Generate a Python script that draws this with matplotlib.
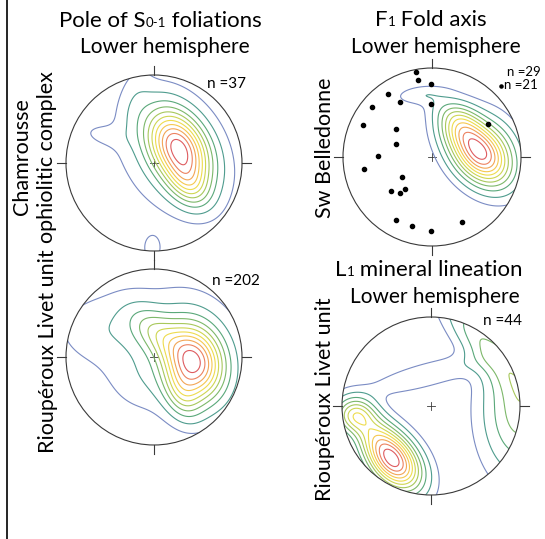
import numpy as np
import matplotlib
matplotlib.use("Agg")
import matplotlib.pyplot as plt
from matplotlib.patches import Circle
from matplotlib.offsetbox import TextArea, HPacker, AnnotationBbox

plt.rcParams["font.family"] = ["Lato", "DejaVu Sans"]

W, H = 545, 539

# stereonet placement (pixel centre x, centre y from top, radius)
NET_CX = [154, 154, 432, 431]
NET_CY = [163, 357, 157, 406]
NET_R = [88, 88, 89, 89]

# density peaks (unit-circle coords, x east, y north)
P1_X = [0.28, 0.40, 0.15, -0.22, -0.58, -0.02]
P1_Y = [0.17, -0.25, 0.05, 0.72, 0.32, -0.97]
P1_SMAJ = [0.32, 0.20, 0.55, 0.30, 0.20, 0.12]
P1_SMIN = [0.21, 0.14, 0.48, 0.12, 0.09, 0.08]
P1_ANG = [-60, -55, -60, 80, -10, 90]
P1_AMP = [1.0, 0.30, 0.075, 0.06, 0.05, 0.08]

P2_X = [0.45, 0.02, 0.32, 0.15, -0.60, -0.20]
P2_Y = [-0.06, 0.28, -0.45, 0.15, 0.32, -0.25]
P2_SMAJ = [0.30, 0.25, 0.20, 0.65, 0.35, 0.25]
P2_SMIN = [0.23, 0.15, 0.13, 0.55, 0.24, 0.20]
P2_ANG = [-75, -40, -70, 0, 0, -60]
P2_AMP = [1.0, 0.30, 0.22, 0.08, 0.08, 0.05]

P3_X = [0.54, 0.30, -0.12, 0.20, 0.85]
P3_Y = [0.05, 0.35, 0.70, 0.52, 0.25]
P3_SMAJ = [0.28, 0.18, 0.20, 0.20, 0.25]
P3_SMIN = [0.19, 0.14, 0.07, 0.10, 0.12]
P3_ANG = [-50, -45, 5, -20, -60]
P3_AMP = [1.0, 0.30, 0.10, 0.07, 0.06]

P4_X = [-0.42, -0.86, -0.65, 1.00, 0.60, -0.05]
P4_Y = [-0.62, -0.10, -0.30, -0.05, 0.70, 0.35]
P4_SMAJ = [0.26, 0.15, 0.25, 0.48, 0.45, 0.50]
P4_SMIN = [0.17, 0.13, 0.15, 0.28, 0.15, 0.10]
P4_ANG = [-50, 0, -50, 90, -50, 15]
P4_AMP = [1.0, 0.45, 0.30, 0.38, 0.30, 0.12]

# F1 fold axes (dots) on the Sw Belledonne net
AX_X = [-0.18, -0.16, -0.01, -0.50, -0.36, -0.01, -0.67, -0.78, 0.63, -0.41, -0.41,
        -0.61, -0.76, -0.34, -0.46, -0.36, -0.30, -0.41, -0.22, -0.01, 0.34]
AX_Y = [0.95, 0.86, 0.82, 0.71, 0.62, 0.60, 0.56, 0.36, 0.37, 0.32, 0.15,
        0.01, -0.13, -0.22, -0.38, -0.41, -0.36, -0.71, -0.78, -0.83, -0.73]

LEVELS = [0.05, 0.12, 0.21, 0.30, 0.39, 0.48, 0.57, 0.66, 0.75, 0.84, 0.93]
COLORS = ["#7b8cc4", "#4f9c8e", "#5aa87a", "#7db86a", "#a8c85c", "#cfd652",
          "#eedc4e", "#f5c850", "#f2a656", "#ec8260", "#de5c60"]


def density(xs, ys, smaj, smin, ang, amp, X, Y):
    Z = np.zeros_like(X)
    for x0, y0, a, b, t, A in zip(xs, ys, smaj, smin, ang, amp):
        t = np.deg2rad(t)
        u = (X - x0) * np.cos(t) + (Y - y0) * np.sin(t)
        v = -(X - x0) * np.sin(t) + (Y - y0) * np.cos(t)
        Z += A * np.exp(-0.5 * ((u / a) ** 2 + (v / b) ** 2))
    return Z / Z.max()


def net_axes(fig, i):
    cx, cy, r = NET_CX[i], NET_CY[i], NET_R[i]
    pad = 1.15
    ax = fig.add_axes([(cx - pad * r) / W, (H - cy - pad * r) / H,
                       2 * pad * r / W, 2 * pad * r / H])
    ax.set_xlim(-pad, pad)
    ax.set_ylim(-pad, pad)
    ax.set_aspect("equal")
    ax.axis("off")
    ax.add_patch(Circle((0, 0), 1, fill=False, ec="#3a3a3a", lw=0.8, zorder=5))
    for dx, dy in [(0, 1), (0, -1), (1, 0), (-1, 0)]:
        ax.plot([dx, dx * 1.1], [dy, dy * 1.1], color="#3a3a3a", lw=0.8)
    ax.plot([-0.04, 0.04], [0, 0], color="#3a3a3a", lw=0.6)
    ax.plot([0, 0], [-0.04, 0.04], color="#3a3a3a", lw=0.6)
    return ax


def contours(ax, params):
    g = np.linspace(-1.05, 1.05, 241)
    X, Y = np.meshgrid(g, g)
    Z = density(*params, X, Y)
    cs = ax.contour(X, Y, Z, levels=LEVELS, colors=COLORS, linewidths=0.8)
    cs.set_clip_path(Circle((0, 0), 1, transform=ax.transData))


def rich_text(ax, x, y, parts):
    kids = [TextArea(s, textprops=dict(fontsize=fs, color="black")) for s, fs in parts]
    box = HPacker(children=kids, align="baseline", pad=0, sep=0)
    ab = AnnotationBbox(box, (x, y), xycoords="data", frameon=False,
                        box_alignment=(0.5, 0.5), pad=0)
    ax.add_artist(ab)


fig = plt.figure(figsize=(W / 100, H / 100), dpi=100)
bg = fig.add_axes([0, 0, 1, 1])
bg.set_xlim(0, W)
bg.set_ylim(H, 0)
bg.axis("off")
bg.plot([6.5, 6.5], [0, H], color="black", lw=1.2)

params = [
    (P1_X, P1_Y, P1_SMAJ, P1_SMIN, P1_ANG, P1_AMP),
    (P2_X, P2_Y, P2_SMAJ, P2_SMIN, P2_ANG, P2_AMP),
    (P3_X, P3_Y, P3_SMAJ, P3_SMIN, P3_ANG, P3_AMP),
    (P4_X, P4_Y, P4_SMAJ, P4_SMIN, P4_ANG, P4_AMP),
]
axes = []
for i in range(4):
    ax = net_axes(fig, i)
    contours(ax, params[i])
    axes.append(ax)

axes[2].scatter(AX_X, AX_Y, s=9, color="black", zorder=6)

# titles
rich_text(bg, 160, 21, [("Pole of S", 16), ("0-1", 9.5), (" foliations", 16)])
bg.text(165, 53, "Lower hemisphere", fontsize=15, ha="center", va="baseline")
rich_text(bg, 431, 20, [("F", 16), ("1", 9.5), (" Fold axis", 16)])
bg.text(436, 53, "Lower hemisphere", fontsize=15, ha="center", va="baseline")
rich_text(bg, 429, 270, [("L", 16), ("1", 9.5), (" mineral lineation", 16)])
bg.text(435, 303, "Lower hemisphere", fontsize=15, ha="center", va="baseline")

# row labels
bg.text(22, 157, "Chamrousse", fontsize=15.5, rotation=90, ha="center", va="center")
bg.text(47, 157, "ophiolitic complex", fontsize=15.5, rotation=90, ha="center", va="center")
bg.text(48, 351, "Rioupéroux Livet unit", fontsize=15.5, rotation=90, ha="center", va="center")
bg.text(325, 148, "Sw Belledonne", fontsize=15.5, rotation=90, ha="center", va="center")
bg.text(325, 399, "Rioupéroux Livet unit", fontsize=15.5, rotation=90, ha="center", va="center")

# counts
bg.text(207, 88, "n =37", fontsize=11, ha="left", va="baseline")
bg.text(212, 285, "n =202", fontsize=11, ha="left", va="baseline")
bg.text(507, 76, "n =29", fontsize=9.5, ha="left", va="baseline")
bg.text(504, 89, "n =21", fontsize=9.5, ha="left", va="baseline")
bg.scatter([500.5], [85.5], s=5, color="black")
bg.text(483, 325, "n =44", fontsize=11, ha="left", va="baseline")

fig.savefig("out.png", dpi=100)
